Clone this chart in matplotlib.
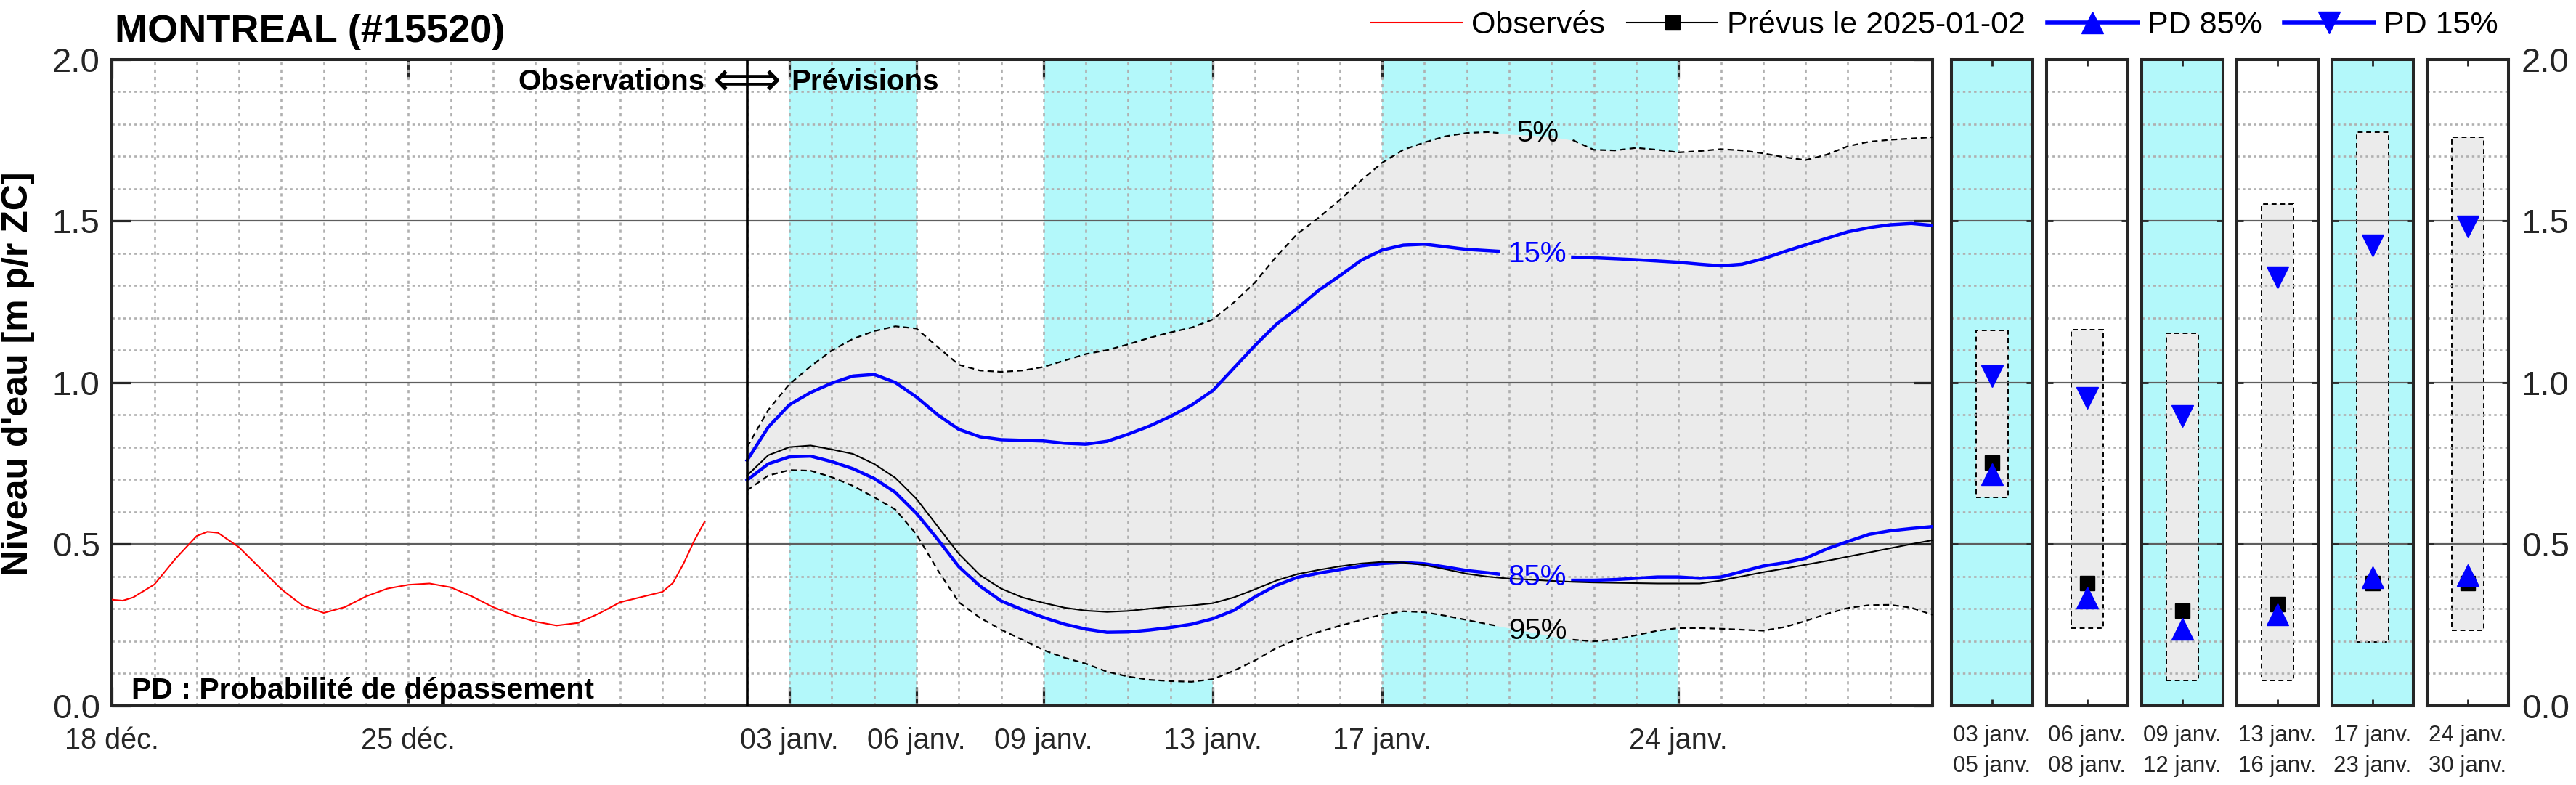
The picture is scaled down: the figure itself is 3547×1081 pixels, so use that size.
import numpy as np
import matplotlib
matplotlib.use("Agg")
import matplotlib.pyplot as plt
import matplotlib.dates as mdates
from matplotlib.ticker import MultipleLocator, FixedLocator

plt.rcParams['font.family'] = ['Liberation Sans', 'DejaVu Sans']

# ---- data (days since 2024-12-18 00:00) ----
start = np.datetime64('2024-12-18T00:00')

obs_days = np.array([0.0, 0.25, 0.5, 1.0, 1.5, 2.0, 2.25, 2.5, 3.0, 3.5, 4.0, 4.5, 5.0, 5.5,
                     6.0, 6.5, 7.0, 7.5, 8.0, 8.5, 9.0, 9.5, 10.0, 10.5, 11.0, 11.5, 12.0,
                     12.5, 13.0, 13.25, 13.5, 13.75, 14.0])
obs_level = np.array([0.328, 0.325, 0.335, 0.375, 0.455, 0.525, 0.538, 0.535, 0.490, 0.425,
                      0.360, 0.310, 0.287, 0.305, 0.338, 0.362, 0.374, 0.378, 0.366, 0.338,
                      0.305, 0.279, 0.260, 0.248, 0.256, 0.285, 0.320, 0.336, 0.352, 0.380,
                      0.440, 0.510, 0.570])

fc_days = np.array([15.0, 15.5, 16.0, 16.5, 17.0, 17.5, 18.0, 18.5, 19.0, 19.5, 20.0, 20.5,
                    21.0, 21.5, 22.0, 22.5, 23.0, 23.5, 24.0, 24.5, 25.0, 25.5, 26.0, 26.5,
                    27.0, 27.5, 28.0, 28.5, 29.0, 29.5, 30.0, 30.5, 31.0, 31.5, 32.0, 32.5,
                    32.75, 33.0, 33.5, 34.0, 34.5, 35.0, 35.5, 36.0, 36.5, 37.0, 37.5, 38.0,
                    38.5, 39.0, 39.5, 40.0, 40.5, 41.0, 41.5, 42.0, 42.5, 43.0])
prevu = np.array([0.712, 0.775, 0.800, 0.805, 0.793, 0.779, 0.748, 0.705, 0.640, 0.555, 0.470,
                  0.404, 0.362, 0.335, 0.318, 0.303, 0.294, 0.290, 0.293, 0.300, 0.306, 0.310,
                  0.317, 0.335, 0.360, 0.387, 0.407, 0.420, 0.431, 0.440, 0.445, 0.443, 0.435,
                  0.422, 0.408, 0.399, 0.396, 0.393, 0.390, 0.386, 0.383, 0.381, 0.380, 0.379,
                  0.378, 0.378, 0.378, 0.387, 0.400, 0.413, 0.424, 0.436, 0.448, 0.461, 0.474,
                  0.487, 0.500, 0.512])
pd85 = np.array([0.698, 0.748, 0.770, 0.772, 0.755, 0.733, 0.703, 0.660, 0.595, 0.515, 0.430,
                 0.370, 0.324, 0.297, 0.273, 0.252, 0.237, 0.227, 0.228, 0.234, 0.242, 0.252,
                 0.269, 0.295, 0.337, 0.372, 0.397, 0.410, 0.421, 0.432, 0.440, 0.443, 0.439,
                 0.429, 0.418, 0.411, 0.407, 0.404, 0.398, 0.393, 0.388, 0.388, 0.390, 0.394,
                 0.398, 0.398, 0.394, 0.398, 0.415, 0.432, 0.442, 0.456, 0.485, 0.508, 0.530,
                 0.541, 0.548, 0.554])
pd15 = np.array([0.759, 0.862, 0.931, 0.969, 0.998, 1.020, 1.025, 1.000, 0.955, 0.900, 0.855,
                 0.832, 0.823, 0.821, 0.819, 0.812, 0.809, 0.818, 0.840, 0.865, 0.895, 0.930,
                 0.975, 1.045, 1.115, 1.180, 1.230, 1.285, 1.330, 1.378, 1.410, 1.425, 1.428,
                 1.420, 1.412, 1.408, 1.406, 1.404, 1.398, 1.392, 1.388, 1.386, 1.383, 1.380,
                 1.376, 1.372, 1.366, 1.361, 1.366, 1.383, 1.405, 1.426, 1.446, 1.466, 1.479,
                 1.488, 1.492, 1.486])
pd05 = np.array([0.800, 0.915, 0.995, 1.050, 1.099, 1.135, 1.159, 1.174, 1.167, 1.110, 1.055,
                 1.037, 1.033, 1.037, 1.048, 1.068, 1.088, 1.100, 1.118, 1.138, 1.155, 1.170,
                 1.195, 1.248, 1.310, 1.390, 1.460, 1.510, 1.565, 1.625, 1.680, 1.720, 1.743,
                 1.762, 1.772, 1.775, 1.772, 1.768, 1.765, 1.760, 1.750, 1.720, 1.718, 1.726,
                 1.720, 1.712, 1.716, 1.722, 1.718, 1.709, 1.697, 1.688, 1.705, 1.731, 1.745,
                 1.751, 1.755, 1.759])
pd95 = np.array([0.666, 0.712, 0.729, 0.727, 0.707, 0.680, 0.645, 0.607, 0.530, 0.420, 0.320,
                 0.272, 0.235, 0.204, 0.172, 0.148, 0.130, 0.105, 0.090, 0.080, 0.076, 0.074,
                 0.082, 0.108, 0.140, 0.178, 0.206, 0.228, 0.247, 0.265, 0.282, 0.292, 0.289,
                 0.278, 0.265, 0.252, 0.246, 0.240, 0.228, 0.215, 0.204, 0.199, 0.205, 0.218,
                 0.232, 0.240, 0.240, 0.238, 0.235, 0.232, 0.243, 0.262, 0.284, 0.302, 0.311,
                 0.312, 0.303, 0.281])

forecast_start = '2025-01-02'
band_start = ['2025-01-03', '2025-01-09', '2025-01-17']
band_end = ['2025-01-06', '2025-01-13', '2025-01-24']

tick_dates = ['2024-12-18', '2024-12-25', '2025-01-03', '2025-01-06', '2025-01-09',
              '2025-01-13', '2025-01-17', '2025-01-24']
tick_labels = ['18 déc.', '25 déc.', '03 janv.', '06 janv.', '09 janv.', '13 janv.',
               '17 janv.', '24 janv.']

# percent labels (day, value, text, colour)
pct_day = 33.65
pct_labels = [(1.769, '5%', 'black'), (1.397, '15%', 'blue'),
              (0.397, '85%', 'blue'), (0.231, '95%', 'black')]
gap_lo, gap_hi = 32.75, 34.5

# summary panels
per_from = ['03 janv.', '06 janv.', '09 janv.', '13 janv.', '17 janv.', '24 janv.']
per_to = ['05 janv.', '08 janv.', '12 janv.', '16 janv.', '23 janv.', '30 janv.']
box_hi = [1.161, 1.164, 1.152, 1.553, 1.774, 1.759]
box_lo = [0.645, 0.240, 0.077, 0.079, 0.198, 0.232]
per_prevu = [0.753, 0.378, 0.294, 0.315, 0.378, 0.378]
per_85 = [0.717, 0.334, 0.238, 0.282, 0.396, 0.403]
per_15 = [1.019, 0.952, 0.895, 1.326, 1.424, 1.483]
per_cyan = [True, False, True, False, True, False]

# ---- styles ----
CYAN = '#b3f8fa'
GREY = '#ebebeb'
SPINE = '#262626'
W, H = 3547, 1081


def to_time(days):
    return start + (np.asarray(days) * 24).round().astype(int).astype('timedelta64[h]')


def style_grid(ax):
    ax.set_axisbelow(True)
    ax.yaxis.set_major_locator(MultipleLocator(0.5))
    ax.yaxis.set_minor_locator(MultipleLocator(0.1))
    ax.grid(axis='y', which='major', color='#5e5e5e', lw=1.6, ls='-')
    ax.grid(axis='y', which='minor', color='#b0b0b0', lw=1.9, ls=(0, (1.3, 1.6)))
    for s in ax.spines.values():
        s.set_linewidth(2.9)
        s.set_color(SPINE)


fig = plt.figure(figsize=(W / 100, H / 100), dpi=100)

# ---- main axes ----
ax = fig.add_axes([154.3 / W, 1 - 971.7 / H, (2661 - 154.3) / W, (971.7 - 81.7) / H])
style_grid(ax)
ax.xaxis.set_minor_locator(mdates.DayLocator())
ax.xaxis.remove_overlapping_locs = False
ax.grid(axis='x', which='minor', color='#b0b0b0', lw=1.9, ls=(0, (1.6, 2.2)))

fc_t = to_time(fc_days)
for a, b in zip(band_start, band_end):
    ax.axvspan(np.datetime64(a), np.datetime64(b), color=CYAN, lw=0, zorder=0.2)
ax.fill_between(fc_t, pd95, pd05, color=GREY, lw=0, zorder=0.3)

gap = (fc_days > gap_lo) & (fc_days < gap_hi)
ax.plot(to_time(obs_days), obs_level, color='red', lw=1.5, zorder=3)
ax.plot(fc_t, np.ma.masked_where(gap, pd05), color='black', lw=1.6, ls=(0, (3.7, 2.4)), zorder=3)
ax.plot(fc_t, np.ma.masked_where(gap, pd95), color='black', lw=1.6, ls=(0, (3.7, 2.4)), zorder=3)
ax.plot(fc_t, np.ma.masked_where(gap, pd15), color='blue', lw=3.2, zorder=3)
ax.plot(fc_t, np.ma.masked_where(gap, pd85), color='blue', lw=3.2, zorder=3)
ax.plot(fc_t, prevu, color='black', lw=1.5, zorder=4)
ax.axvline(np.datetime64(forecast_start), color='black', lw=2.6, zorder=4)

for val, txt, col in pct_labels:
    ax.text(to_time(pct_day), val, txt, color=col, fontsize=29, ha='center', va='center', zorder=5)

ax.set_xlim(start, to_time(43.0))
ax.set_ylim(0, 2)
ax.xaxis.set_major_locator(FixedLocator(mdates.date2num(np.array(tick_dates, dtype='datetime64[D]'))))
ax.set_xticklabels(tick_labels)
ax.yaxis.set_major_formatter(matplotlib.ticker.FormatStrFormatter('%.1f'))
ax.tick_params(which='major', direction='in', length=19, width=2.3, color=SPINE,
               top=True, right=True)
ax.tick_params(which='minor', length=0)
ax.tick_params(axis='x', labelsize=28.5, pad=21, labelcolor='#262626')
ax.tick_params(axis='y', labelsize=34, pad=12, labelcolor='#262626')

ax.text(to_time(14.02), 1.904, 'Observations', fontsize=29, fontweight='bold',
        ha='right', va='baseline', zorder=6)
ax.text(to_time(15.0), 1.928, '⟺', fontsize=47, ha='center', va='center',
        family=['DejaVu Sans'], zorder=6)
ax.text(to_time(16.04), 1.904, 'Prévisions', fontsize=29, fontweight='bold',
        ha='left', va='baseline', zorder=6)
ax.text(to_time(0.47), 0.022, 'PD : Probabilité de dépassement', fontsize=29.5,
        fontweight='bold', ha='left', va='baseline', zorder=6)

# ---- summary panels ----
for i in range(6):
    left = 2687.2 + 131.0 * i
    pax = fig.add_axes([left / W, 1 - 971.7 / H, 111.5 / W, (971.7 - 81.7) / H])
    style_grid(pax)
    pax.set_facecolor(CYAN if per_cyan[i] else 'white')
    pax.set_xlim(0, 1)
    pax.set_ylim(0, 2)
    pax.bar(0.5, box_hi[i] - box_lo[i], bottom=box_lo[i], width=0.4, color=GREY,
            edgecolor='black', lw=1.4, ls=(0, (3.5, 2.5)), zorder=0.3)
    pax.plot(0.5, per_prevu[i], 's', color='black', ms=15, zorder=3)
    pax.plot(0.5, per_85[i], '^', color='blue', ms=21, zorder=4)
    pax.plot(0.5, per_15[i], 'v', color='blue', ms=21, zorder=4)
    pax.set_xticks([0.5])
    pax.set_xticklabels([per_from[i] + '\n' + per_to[i]], linespacing=1.5)
    pax.tick_params(which='major', direction='in', length=6.5, width=2.0, color=SPINE,
                    top=True, right=True, left=True)
    pax.tick_params(which='minor', length=0)
    pax.tick_params(axis='x', labelsize=22.5, pad=19, labelcolor='#262626')
    pax.yaxis.set_major_formatter(matplotlib.ticker.FormatStrFormatter('%.1f'))
    if i == 5:
        pax.tick_params(axis='y', labelleft=False, labelright=True, labelsize=34, pad=13,
                        labelcolor='#262626')
    else:
        pax.tick_params(axis='y', labelleft=False)

# ---- titles / legend ----
fig.text(158 / W, 1 - 58 / H, 'MONTREAL (#15520)', fontsize=39, fontweight='bold',
         ha='left', va='baseline')
fig.text(25 / W, 1 - 515 / H, "Niveau d'eau [m p/r ZC]", fontsize=36, fontweight='bold',
         rotation=90, ha='center', va='center')

h_obs, = ax.plot([], [], color='red', lw=1.5)
h_prev, = ax.plot([], [], color='black', lw=1.5, marker='s', ms=15)
h_85, = ax.plot([], [], color='blue', lw=4, marker='^', ms=21)
h_15, = ax.plot([], [], color='blue', lw=4, marker='v', ms=21)
fig.legend([h_obs, h_prev, h_85, h_15],
           ['Observés', 'Prévus le 2025-01-02', 'PD 85%', 'PD 15%'],
           loc='center right', bbox_to_anchor=(3440 / W, 1 - 35 / H), ncol=4,
           frameon=False, fontsize=31, handlelength=2.9, handletextpad=0.3,
           columnspacing=0.7, borderpad=0, borderaxespad=0)

fig.savefig('out.png', dpi=100)
